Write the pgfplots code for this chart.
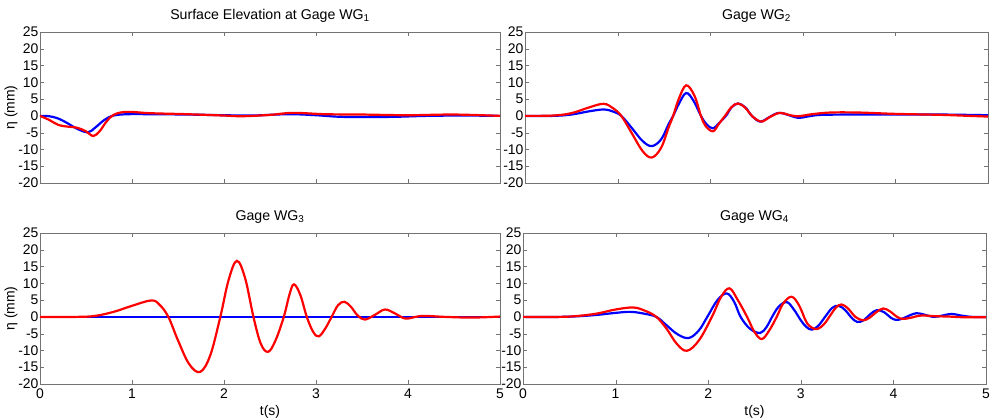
\documentclass[border=0pt]{standalone}
\usepackage{fontspec}
\setmainfont{Liberation Sans}
\usepackage{pgfplots}
\pgfplotsset{compat=1.18}
\definecolor{mblue}{RGB}{0,0,255}
\definecolor{mred}{RGB}{255,0,0}
\pgfplotsset{
  wg/.style={
    scale only axis, width=460bp, height=151bp,
    xmin=0, xmax=5, ymin=-20, ymax=25,
    xtick={0,1,2,3,4,5}, ytick={-20,-15,-10,-5,0,5,10,15,20,25},
    tick align=inside, major tick length=4bp,
    axis line style={black!55}, tick style={black!55},
    tick label style={font=\fontsize{14}{16}\selectfont},
    /pgf/number format/assume math mode=true,
    yticklabel style={xshift=2bp},
    xticklabel style={yshift=-1.5bp},
    title style={font=\fontsize{14.2}{16}\selectfont},
    label style={font=\fontsize{14}{16}\selectfont},
    ylabel shift=-6bp,
    every axis plot/.append style={line width=2.2bp, smooth, tension=0.6},
    anchor=south west,
  },
  top/.style={xticklabels={}},
}
\begin{document}
\begin{tikzpicture}
\path[use as bounding box] (0,0) rectangle (990bp,420bp);
% ---------- WG1
\begin{axis}[wg, top, at={(40bp,237bp)}, title={Surface Elevation at Gage WG\textsubscript{1}}, ylabel={η (mm)}]
\addplot[mblue] coordinates {(0,0)(0.1,-0.1)(0.2,-0.8)(0.3,-2.2)(0.4,-3.8)(0.52,-4.9)(0.6,-3.5)(0.7,-1.2)(0.8,0.1)(0.95,0.5)(1.2,0.5)(1.6,0.4)(2.0,0.2)(2.3,0.1)(2.7,0.5)(3.0,0.2)(3.3,-0.3)(3.8,-0.3)(4.2,0)(4.6,0.1)(5,0)};
\addplot[mred] coordinates {(0,0)(0.1,-1.2)(0.2,-2.7)(0.3,-3.2)(0.4,-3.5)(0.5,-4.6)(0.58,-6)(0.65,-4.5)(0.72,-1.8)(0.8,0.3)(0.94,1.2)(1.2,0.8)(1.6,0.5)(2.0,0.1)(2.2,-0.1)(2.5,0.3)(2.75,0.9)(3.1,0.5)(3.5,0.4)(4.0,0.2)(4.5,0.4)(5,0)};
\end{axis}
% ---------- WG2
\begin{axis}[wg, top, at={(525bp,237bp)}, width=463bp, title={Gage WG\textsubscript{2}}]
\addplot[mblue] coordinates {(0,0)(0.3,0)(0.5,0.4)(0.7,1.4)(0.85,1.9)(0.95,1.3)(1.04,0)(1.15,-3.5)(1.27,-7.5)(1.37,-9)(1.47,-7)(1.55,-2.5)(1.6,0)(1.66,3.5)(1.74,6.8)(1.82,4.5)(1.9,0)(1.96,-2.5)(2.03,-3.7)(2.1,-2)(2.17,0)(2.23,2.5)(2.3,3.7)(2.38,2.5)(2.45,0)(2.54,-1.7)(2.63,-0.5)(2.74,0.9)(2.85,0.2)(2.95,-0.6)(3.05,-0.2)(3.2,0.3)(3.6,0.4)(4.0,0.4)(4.5,0.4)(5,0.2)};
\addplot[mred] coordinates {(0,0)(0.3,0.1)(0.5,0.8)(0.7,2.6)(0.85,3.6)(0.95,2.3)(1.04,0)(1.15,-5)(1.27,-10.5)(1.37,-12.4)(1.47,-9.5)(1.55,-3.5)(1.6,0)(1.66,5)(1.74,9.1)(1.83,6)(1.9,0)(1.95,-3)(2.03,-4.6)(2.09,-2.5)(2.16,0)(2.23,2.6)(2.3,3.7)(2.38,2.4)(2.45,0)(2.55,-1.7)(2.64,-0.4)(2.75,0.9)(2.85,0.3)(2.95,-0.1)(3.1,0.5)(3.3,1)(3.6,1)(4.0,0.6)(4.5,0.3)(4.8,0)(5,-0.2)};
\end{axis}
% ---------- WG3
\begin{axis}[wg, at={(40bp,36bp)}, title={Gage WG\textsubscript{3}}, ylabel={η (mm)}, xlabel={t(s)}]
\addplot[mblue] coordinates {(0,0)(5,0)};
\addplot[mred] coordinates {(0,0)(0.4,0)(0.6,0.3)(0.8,1.5)(1.0,3.3)(1.21,4.9)(1.3,3.6)(1.395,0)(1.5,-7)(1.62,-14)(1.74,-16.4)(1.85,-11.5)(1.96,0)(2.05,11)(2.14,16.7)(2.23,11.5)(2.32,0)(2.4,-8)(2.48,-10.4)(2.56,-7)(2.65,0)(2.71,6.5)(2.76,9.7)(2.83,6.5)(2.9,0)(2.97,-4.5)(3.03,-5.8)(3.1,-3.5)(3.17,0)(3.24,3.5)(3.31,4.5)(3.38,3)(3.45,0.5)(3.53,-0.8)(3.64,0.6)(3.75,2.2)(3.86,1)(3.97,-0.5)(4.08,0)(4.18,0.3)(4.4,0)(4.7,-0.2)(5,0.1)};
\end{axis}
% ---------- WG4
\begin{axis}[wg, at={(523bp,36bp)}, width=463bp, title={Gage WG\textsubscript{4}}, xlabel={t(s)}]
\addplot[mblue] coordinates {(0,0)(0.4,0)(0.6,0.2)(0.8,0.6)(1.0,1.2)(1.16,1.5)(1.3,1)(1.44,0)(1.55,-2.5)(1.67,-5.2)(1.79,-6.3)(1.9,-4)(1.99,0)(2.1,5)(2.2,7)(2.28,4.5)(2.35,0)(2.45,-3.5)(2.56,-4.8)(2.63,-3)(2.69,0)(2.76,3)(2.85,4.4)(2.93,2)(3.0,-1)(3.06,-3)(3.12,-3.8)(3.19,-2.6)(3.27,0.3)(3.34,2.7)(3.41,3.3)(3.48,2)(3.55,-0.3)(3.61,-1.5)(3.68,-1)(3.75,0.8)(3.82,2)(3.9,1.4)(3.97,-0.2)(4.03,-0.9)(4.1,-0.5)(4.18,0.5)(4.25,1.1)(4.33,0.7)(4.43,0)(4.53,0.4)(4.63,0.9)(4.73,0.4)(4.85,0)(5,0)};
\addplot[mred] coordinates {(0,0)(0.4,0)(0.6,0.3)(0.8,1)(1.0,2.2)(1.19,2.8)(1.32,1.8)(1.44,0)(1.55,-3.5)(1.66,-8)(1.77,-10.1)(1.9,-7)(2.04,0)(2.14,6)(2.23,8.5)(2.32,5)(2.42,0)(2.5,-4.5)(2.58,-6.6)(2.66,-4)(2.74,0)(2.81,4)(2.9,6)(2.98,3.5)(3.06,-1.5)(3.12,-3.2)(3.18,-3.6)(3.25,-2.2)(3.32,0.5)(3.38,2.8)(3.44,3.7)(3.51,2.5)(3.59,0)(3.67,-1)(3.74,-0.3)(3.82,1.5)(3.89,2.5)(3.96,1.7)(4.04,0)(4.1,-0.6)(4.18,-0.3)(4.3,0.4)(4.45,0.2)(4.6,0.1)(4.75,-0.1)(5,-0.1)};
\end{axis}
\end{tikzpicture}
\end{document}
